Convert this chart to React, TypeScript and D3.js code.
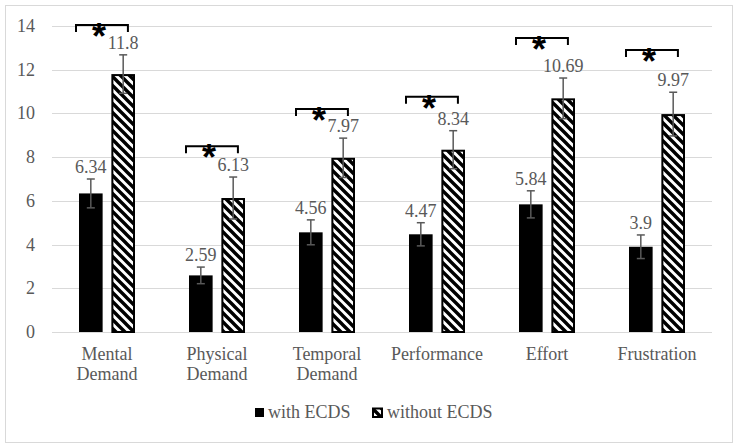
import * as d3 from 'd3';

// NASA-TLX style scores
const categories = ['Mental Demand', 'Physical Demand', 'Temporal Demand', 'Performance', 'Effort', 'Frustration'];
const seriesNames = ['with ECDS', 'without ECDS'];
const withEcds = [6.34, 2.59, 4.56, 4.47, 5.84, 3.9];
const withoutEcds = [11.8, 6.13, 7.97, 8.34, 10.69, 9.97];
const withErr = [0.66, 0.38, 0.57, 0.53, 0.62, 0.54];
const withoutErr = [0.88, 0.96, 0.9, 0.87, 0.93, 1.0];
// height (in score units) of each significance bracket
const bracketLevel = [14.05, 8.5, 10.2, 10.76, 13.45, 12.9];
const yTicks = [0, 2, 4, 6, 8, 10, 12, 14];

const W = 739;
const H = 446;
const FONT = '"Liberation Serif", "Times New Roman", serif';
const TEXT = '#595959';
const GRID = '#d9d9d9';

export default function App() {
    const x = d3.scaleBand().domain(categories).range([52, 712]).paddingInner(0).paddingOuter(0);
    const y = d3.scaleLinear().domain([0, 14]).range([332, 26]);
    const inner = d3.scaleBand().domain(seriesNames).range([-28, 28]).paddingInner(0.27);
    const bw = inner.bandwidth();

    const series = [
        { name: seriesNames[0], values: withEcds, err: withErr },
        { name: seriesNames[1], values: withoutEcds, err: withoutErr },
    ];

    return (
        <svg width={W} height={H} style={{ position: 'absolute', left: 0, top: 0 }} fontFamily={FONT}>
            <defs>
                <pattern id="hatch" patternUnits="userSpaceOnUse" width={9} height={9}>
                    <rect width={9} height={9} fill="#fff" />
                    <path d="M-2,-2 L11,11 M-2,7 L2,11 M7,-2 L11,2" stroke="#000" strokeWidth={3.4} />
                </pattern>
            </defs>
            <rect x={0} y={0} width={W} height={H} fill="#fff" />
            <rect x={5.5} y={5.5} width={727} height={437} fill="none" stroke={GRID} />

            {/* grid + y labels */}
            {yTicks.map((t) => (
                <g key={t}>
                    <line x1={52} x2={712} y1={Math.round(y(t)) + 0.5} y2={Math.round(y(t)) + 0.5} stroke={GRID} strokeWidth={1.2} />
                    <text x={35} y={y(t) + 6} textAnchor="end" fontSize={18} fill={TEXT}>{t}</text>
                </g>
            ))}

            {/* bars */}
            {categories.map((c, i) => {
                const cx = (x(c) || 0) + x.bandwidth() / 2;
                return (
                    <g key={c}>
                        {series.map((s, si) => {
                            const bx = cx + (inner(s.name) || 0);
                            const v = s.values[i];
                            const top = y(v);
                            const errTop = y(v + s.err[i]);
                            const errBot = y(v - s.err[i]);
                            const mid = bx + bw / 2;
                            return (
                                <g key={s.name}>
                                    {si === 0 ? (
                                        <rect x={bx} y={top} width={bw} height={y(0) - top} fill="#000" />
                                    ) : (
                                        <rect x={bx + 1} y={top + 1} width={bw - 2} height={y(0) - top - 1} fill="url(#hatch)" stroke="#000" strokeWidth={2} />
                                    )}
                                    <g stroke={TEXT} strokeWidth={1.5}>
                                        <line x1={mid} x2={mid} y1={errTop} y2={errBot} />
                                        <line x1={mid - 4} x2={mid + 4} y1={errTop} y2={errTop} />
                                        <line x1={mid - 4} x2={mid + 4} y1={errBot} y2={errBot} />
                                    </g>
                                    <text x={mid} y={errTop - 6} textAnchor="middle" fontSize={18} fill={TEXT}>{v}</text>
                                </g>
                            );
                        })}
                        {/* significance bracket */}
                        {(() => {
                            const x1 = cx + (inner(seriesNames[0]) || 0) - 3;
                            const x2 = cx + (inner(seriesNames[1]) || 0) + bw * 0.7;
                            const by = y(bracketLevel[i]);
                            return (
                                <g>
                                    <path d={`M${x1},${by + 7} V${by} H${x2} V${by + 7}`} fill="none" stroke="#000" strokeWidth={2} />
                                    <text x={(x1 + x2) / 2 - 3} y={by + 24} textAnchor="middle" fontSize={36} fontWeight="bold" fontFamily='"Liberation Sans", Arial, sans-serif' fill="#000">*</text>
                                </g>
                            );
                        })()}
                        {/* category label */}
                        <text x={cx} y={360} textAnchor="middle" fontSize={18} fill={TEXT}>
                            {c.split(' ').map((w, k) => (
                                <tspan key={k} x={cx} dy={k === 0 ? 0 : 20}>{w}</tspan>
                            ))}
                        </text>
                    </g>
                );
            })}

            {/* legend */}
            <rect x={255} y={408} width={9} height={9} fill="#000" />
            <text x={268} y={418} fontSize={18} fill={TEXT}>{seriesNames[0]}</text>
            <rect x={373} y={408.5} width={9} height={8.5} fill="url(#hatch)" stroke="#000" strokeWidth={2} />
            <text x={387} y={418} fontSize={18} fill={TEXT}>{seriesNames[1]}</text>
        </svg>
    );
}
